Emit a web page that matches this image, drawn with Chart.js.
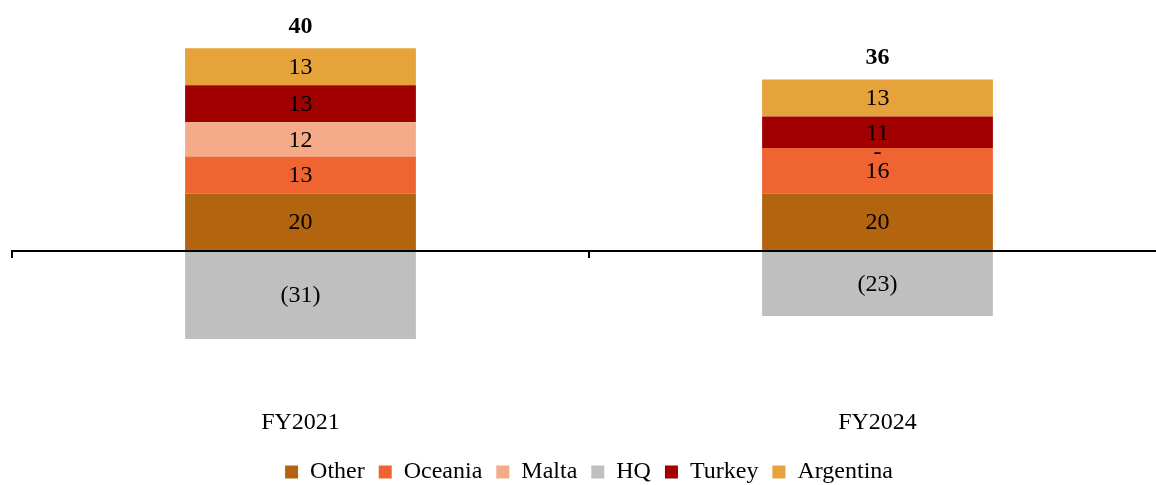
<!DOCTYPE html>
<html>
<head>
<meta charset="utf-8">
<script src="https://cdn.jsdelivr.net/npm/chart.js@4/dist/chart.umd.min.js"></script>
<style>
  html, body { margin: 0; padding: 0; background: #fff; overflow: hidden; }
  #wrap { width: 1178px; height: 485px; position: relative; }
</style>
</head>
<body>
<div id="wrap"><canvas id="c"></canvas></div>
<script>
// Segment values per fiscal year
const categories = ['FY2021', 'FY2024'];
const other     = [20, 20];
const oceania   = [13, 16];
const malta     = [12, 0];
const hq        = [-31, -23];
const turkey    = [13, 11];
const argentina = [13, 13];
const totals    = [40, 36];

const serif = "'Liberation Serif', 'Times New Roman', serif";

const series = [
  { label: 'Other',     data: other,     color: '#B3640F' },
  { label: 'Oceania',   data: oceania,   color: '#F06432' },
  { label: 'Malta',     data: malta,     color: '#F5AB88' },
  { label: 'HQ',        data: hq,        color: '#BFBFBF' },
  { label: 'Turkey',    data: turkey,    color: '#A00000' },
  { label: 'Argentina', data: argentina, color: '#E6A23B' }
];

// Zero line across the plot plus the category divider ticks below it
const zeroAxis = {
  id: 'zeroAxis',
  afterDatasetsDraw(chart) {
    const { ctx, chartArea, scales } = chart;
    const y0 = Math.round(scales.y.getPixelForValue(0));
    ctx.save();
    ctx.strokeStyle = '#000';
    ctx.lineWidth = 2;
    ctx.beginPath();
    ctx.moveTo(chartArea.left, y0);
    ctx.lineTo(chartArea.right, y0);
    ctx.stroke();
    const xs = scales.x;
    const half = (xs.getPixelForValue(1) - xs.getPixelForValue(0)) / 2;
    const marks = [xs.getPixelForValue(0) - half, xs.getPixelForValue(0) + half];
    marks.forEach(x => {
      ctx.beginPath();
      ctx.moveTo(Math.round(x), y0 - 1);
      ctx.lineTo(Math.round(x), y0 + 7);
      ctx.stroke();
    });
    ctx.restore();
  }
};

// Value labels inside each segment and bold net totals above the stacks
const valueLabels = {
  id: 'valueLabels',
  afterDatasetsDraw(chart) {
    const { ctx, scales } = chart;
    ctx.save();
    ctx.textAlign = 'center';
    ctx.textBaseline = 'middle';
    ctx.fillStyle = '#000';
    ctx.font = '24px ' + serif;
    chart.data.datasets.forEach((ds, di) => {
      const meta = chart.getDatasetMeta(di);
      meta.data.forEach((bar, i) => {
        const v = ds.data[i];
        const y = (bar.y + bar.base) / 2;
        let txt;
        if (v === 0) txt = '-';
        else if (v < 0) txt = '(' + Math.abs(v) + ')';
        else txt = String(v);
        ctx.fillText(txt, bar.x, v === 0 ? y + 5 : y + 1);
      });
    });
    ctx.font = 'bold 24px ' + serif;
    categories.forEach((c, i) => {
      let top = 0;
      chart.data.datasets.forEach(ds => { if (ds.data[i] > 0) top += ds.data[i]; });
      const x = scales.x.getPixelForValue(i);
      const y = scales.y.getPixelForValue(top) - 21.5;
      ctx.fillText(String(totals[i]), x, y);
    });
    ctx.restore();
  }
};

new Chart(document.getElementById('c'), {
  type: 'bar',
  data: {
    labels: categories,
    datasets: series.map(s => ({
      label: s.label,
      data: s.data,
      backgroundColor: s.color,
      borderWidth: 0,
      categoryPercentage: 1,
      barPercentage: 0.4,
      stack: 'a'
    }))
  },
  options: {
    responsive: true,
    maintainAspectRatio: false,
    animation: false,
    layout: { padding: { top: 22.5, left: 12, right: 12, bottom: -9 } },
    scales: {
      x: {
        stacked: true,
        grid: { display: false, drawTicks: false },
        border: { display: false },
        ticks: { color: '#000', font: { family: serif, size: 24 }, padding: 8.5 }
      },
      y: {
        stacked: true,
        display: false,
        min: -52.5,
        max: 80
      }
    },
    plugins: {
      legend: {
        position: 'bottom',
        labels: {
          color: '#000',
          font: { family: serif, size: 24 },
          boxWidth: 13,
          boxHeight: 13,
          padding: 14
        }
      },
      tooltip: { enabled: false }
    }
  },
  plugins: [zeroAxis, valueLabels]
});
</script>
</body>
</html>
